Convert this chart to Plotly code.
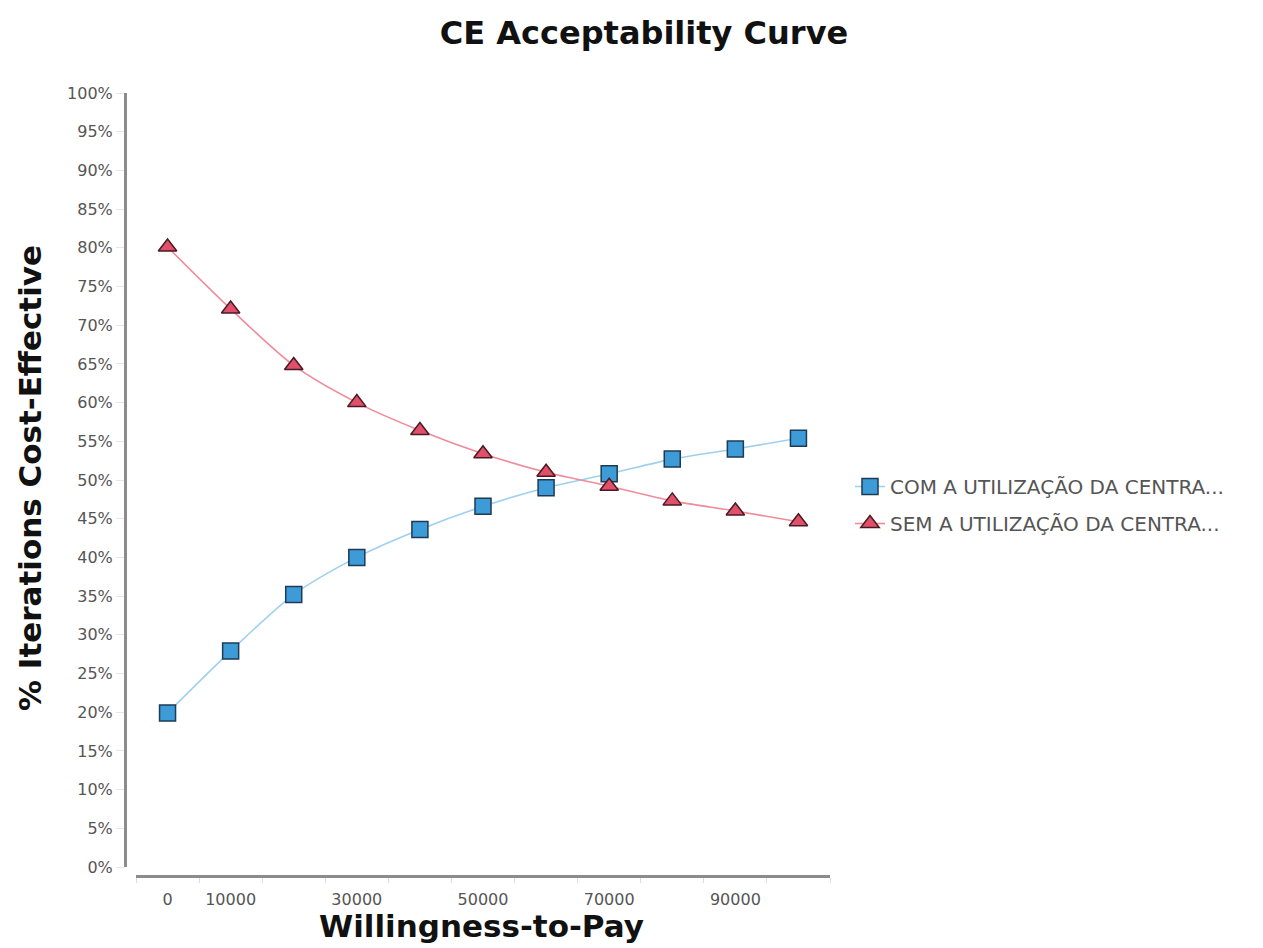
import plotly.graph_objects as go

wtp = [0, 10000, 20000, 30000, 40000, 50000, 60000, 70000, 80000, 90000, 100000]
com_values = [19.9, 27.9, 35.2, 40.0, 43.6, 46.6, 49.0, 50.8, 52.7, 54.0, 55.4]
sem_values = [80.1, 72.1, 64.8, 60.0, 56.4, 53.4, 51.0, 49.2, 47.3, 46.0, 44.6]
series_names = ["COM A UTILIZAÇÃO DA CENTRA...", "SEM A UTILIZAÇÃO DA CENTRA..."]
x_tick_vals = [0, 10000, 30000, 50000, 70000, 90000]
x_tick_text = ["0", "10000", "30000", "50000", "70000", "90000"]
x_minor_ticks = [-5000, 5000, 15000, 25000, 35000, 45000, 55000, 65000, 75000, 85000, 95000, 105000]
y_tick_vals = list(range(0, 101, 5))
y_tick_text = [f"{v}%" for v in y_tick_vals]

# page body has an 8px margin: size the figure to fit the window
OFF = 8
W, H = 1263 - OFF, 948 - OFF
px = lambda v: (v - OFF) / W
py = lambda v: 1 - (v - OFF) / H

FONT = "DejaVu Sans"
fig = go.Figure()
fig.add_trace(go.Scatter(
    x=wtp, y=com_values, name=series_names[0], mode="lines+markers",
    line=dict(color="#9fd0ee", width=1.6, shape="spline", smoothing=0.8),
    marker=dict(symbol="square", size=16, color="#3d9bd8", line=dict(color="#1d3b55", width=1.5)),
    legendgroup="a",
))
fig.add_trace(go.Scatter(
    x=wtp, y=sem_values, name=series_names[1], mode="lines+markers",
    line=dict(color="#f08b9a", width=1.6, shape="spline", smoothing=0.8),
    marker=dict(symbol="triangle-up", size=16, color="#e0506b", line=dict(color="#4a1a22", width=1.5)),
    legendgroup="b",
))

fig.update_layout(
    width=W, height=H,
    margin=dict(l=0, r=0, t=0, b=0, autoexpand=False),
    paper_bgcolor="white", plot_bgcolor="white",
    font=dict(family=FONT, color="#555555"),
    title=dict(text="<b>CE Acceptability Curve</b>", x=px(644), xanchor="center",
               y=py(33), yanchor="middle", font=dict(family=FONT, size=32, color="#111111")),
    xaxis=dict(
        domain=[px(136), px(830)], range=[-5000, 105000], anchor="free", position=py(876),
        tickvals=x_tick_vals, ticktext=x_tick_text, ticks="", showgrid=False, zeroline=False,
        showline=True, linecolor="#8c8c8c", linewidth=3, ticklabelstandoff=8,
        tickfont=dict(family=FONT, size=16, color="#555555"),
        minor=dict(tickvals=x_minor_ticks, ticks="outside", ticklen=5, tickcolor="#dddddd", showgrid=False),
    ),
    yaxis=dict(
        domain=[py(867), py(93)], range=[0, 100], anchor="free", position=px(125),
        tickvals=y_tick_vals, ticktext=y_tick_text, ticks="outside", ticklen=8, tickcolor="#e6e6e6",
        showgrid=False, zeroline=False, showline=True, linecolor="#8c8c8c", linewidth=3,
        tickfont=dict(family=FONT, size=16, color="#555555"),
    ),
    legend=dict(x=px(850), y=py(505), xanchor="left", yanchor="middle",
                font=dict(family=FONT, size=20, color="#555555"),
                tracegroupgap=8, traceorder="grouped", bgcolor="rgba(0,0,0,0)"),
    annotations=[
        dict(text="<b>Willingness-to-Pay</b>", x=px(482), y=py(926), xref="paper", yref="paper",
             showarrow=False, xanchor="center", yanchor="middle",
             font=dict(family=FONT, size=31, color="#111111")),
        dict(text="<b>% Iterations Cost-Effective</b>", x=px(30), y=py(478), xref="paper", yref="paper",
             showarrow=False, xanchor="center", yanchor="middle", textangle=-90,
             font=dict(family=FONT, size=31, color="#111111")),
    ],
)

fig.write_html("out.html")
